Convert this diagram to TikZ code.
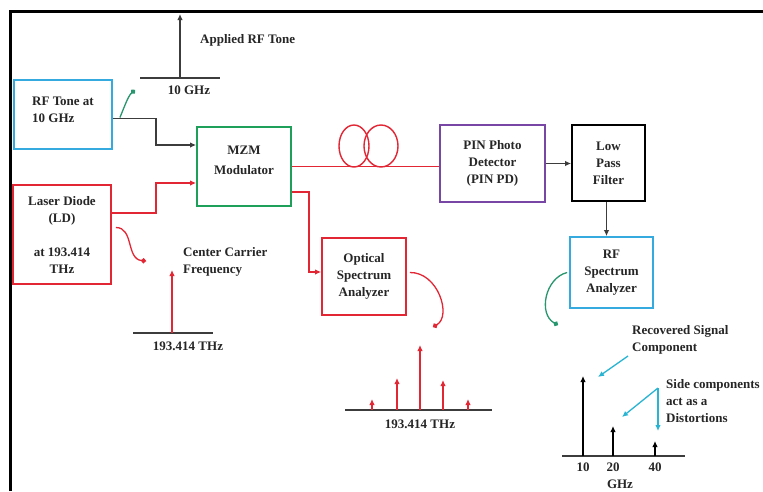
\documentclass[tikz,border=0pt]{standalone}
\usepackage{fontspec}
\setmainfont{Liberation Serif}
\usetikzlibrary{arrows.meta,calc}
\definecolor{cred}{RGB}{226,38,52}
\definecolor{cblue}{RGB}{52,170,222}
\definecolor{cgreen}{RGB}{30,160,90}
\definecolor{cpurple}{RGB}{120,70,165}
\definecolor{ccyan}{RGB}{40,180,210}
\definecolor{cteal}{RGB}{40,150,110}
\definecolor{cgray}{RGB}{60,60,60}
\begin{document}
\begin{tikzpicture}[x=1pt,y=-1pt,
  every node/.style={font=\fontsize{13}{17}\selectfont\bfseries, text=black!85},
  blockbox/.style={draw, line width=1.8pt, inner sep=0pt, align=center},
  tipa/.style={-{Latex[length=6pt,width=5.5pt]}},
  tipdot/.style={-{Circle[length=5pt]}},
  conn/.style={line width=1.3pt},
  lbl/.style={inner sep=0pt, align=left, anchor=north west},
]
\clip (0,0) rectangle (763,491);
\fill[white] (0,0) rectangle (763,491);
% frame
\draw[line width=3pt] (10,491) -- (10,11.5) -- (763,11.5);

% blocks
\node[blockbox, draw=cblue, minimum width=98pt, minimum height=69pt,
  label={[yshift=5pt, align=left]center:RF Tone at\\10 GHz}] (rf) at (63,114.5) {};
\node[blockbox, draw=cgreen, minimum width=94pt, minimum height=79pt,
  label={[yshift=6pt, align=center]center:MZM\\[3pt]Modulator}] (mzm) at (244,166.5) {};
\node[blockbox, draw=cred, minimum width=98pt, minimum height=99pt] (ld) at (62,234.5) {Laser Diode\\(LD)\\[17pt]at 193.414\\THz};
\node[blockbox, draw=cpurple, minimum width=105pt, minimum height=77pt] (pin) at (492.5,163.5) {PIN Photo\\Detector\\(PIN PD)};
\node[blockbox, draw=black, minimum width=73pt, minimum height=76pt] (lpf) at (608.5,163) {Low\\Pass\\Filter};
\node[blockbox, draw=cblue, minimum width=83pt, minimum height=71pt] (rfsa) at (611.5,272.5) {RF\\Spectrum\\Analyzer};
\node[blockbox, draw=cred, minimum width=84pt, minimum height=77pt] (osa) at (364,276.5) {Optical\\Spectrum\\Analyzer};

% connectors
\draw[conn, cgray, tipa] ([yshift=-4pt]rf.east) -- ++(43,0) |- ([yshift=21.5pt]mzm.west);
\draw[conn, cred, tipa] ([yshift=21.5pt]ld.east) -- ++(44,0) |- ([yshift=-16.5pt]mzm.west);
\draw[conn, cred] (mzm.east) -- (mzm.east -| pin.west);
\draw[cred, line width=1.4pt] (354,146) ellipse [x radius=15, y radius=21];
\draw[cred, line width=1.4pt] (381,146) ellipse [x radius=17, y radius=21];
\draw[conn, cred, tipa] ([yshift=-25.5pt]mzm.east) -- ++(17,0) |- ([yshift=4.5pt]osa.west);
\draw[conn, cgray, tipa] (pin.east) -- (pin.east -| lpf.west);
\draw[conn, cgray, tipa] ([xshift=-2pt]lpf.south) -- ([xshift=-2pt]lpf.south |- rfsa.north);

% curved pointers
\coordinate (g1) at (135,90);
\draw[cteal, conn, tipdot] ([xshift=7pt,yshift=-3pt]rf.east) .. controls (124,108) and (128,96) .. (g1);
\coordinate (c1) at (146,261);
\draw[cred, conn, tipdot] ([xshift=4pt,yshift=7pt]ld.east) .. controls (134,227.5) and (126,259) .. (c1);
\coordinate (c2) at (433,327);
\draw[cred, conn, tipdot] ([xshift=3pt,yshift=4pt]osa.east) .. controls (438,272) and (452,316) .. (c2);
\coordinate (c3) at (558,325);
\draw[cteal, conn, tipdot] ([xshift=-2pt]rfsa.west) .. controls (545,278) and (538,314) .. (c3);

% applied RF tone spectrum
\draw[cgray, conn] (140,78) -- (220,78);
\draw[cgray, conn, tipa] (180,78) -- (180,14);
\node[lbl] (art) at (200,34) {Applied RF Tone};
\node (tenghz) at (189,90) {10 GHz};

% center carrier spectrum
\draw[cgray, conn] (133,333) -- (213,333);
\draw[cred, conn, tipa] (172,333) -- (172,270);
\node[lbl] (ccf) at (183,247) {Center Carrier\\Frequency};
\node (thz1) at (188,346) {193.414 THz};

% optical spectrum
\draw[cgray, conn] (345,410) -- (492,410);
\foreach \x/\t in {372/399, 397/378, 420/345, 443/380, 468/399}
  \draw[cred, conn, tipa] (\x,410) -- (\x,\t);
\node (thz2) at (420,424) {193.414 THz};

% RF spectrum
\draw[cgray, conn] (562,456) -- (685,456);
\draw[black, conn, tipa] (583,456) -- (583,376);
\draw[black, conn, tipa] (613,456) -- (613,426);
\draw[black, conn, tipa] (655,456) -- (655,441);
\node (f10) at (583,467) {10};
\node (f20) at (613,467) {20};
\node (f40) at (655,467) {40};
\node (ghz) at (620,484) {GHz};
\node[lbl] (rsc) at (632,325) {Recovered Signal\\Component};
\node[lbl] (sca) at (666,379) {Side components\\act as a\\Distortions};
\coordinate (p1) at (628,356);
\coordinate (p2) at (658,388);
\draw[ccyan, conn, tipa] (p1) -- (598,377);
\draw[ccyan, conn, tipa] (p2) -- (622,417);
\draw[ccyan, conn, tipa] (p2) -- (658,431);
\end{tikzpicture}
\end{document}
